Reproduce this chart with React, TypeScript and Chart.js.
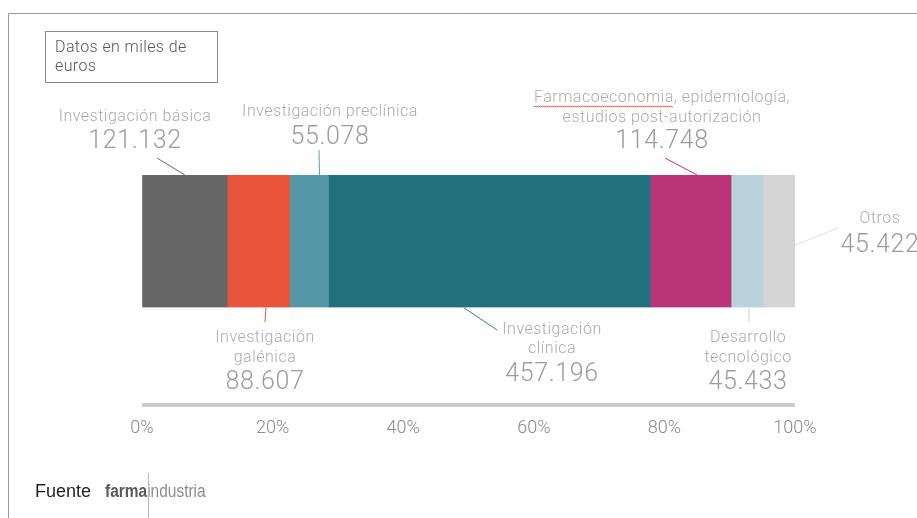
import React, { useEffect, useRef } from "react";
import { Chart, registerables } from "chart.js";

Chart.register(...registerables);

// ---- Data ----
const categories = [
  "Investigación básica",
  "Investigación galénica",
  "Investigación preclínica",
  "Investigación clínica",
  "Farmacoeconomia, epidemiología, estudios post-autorización",
  "Desarrollo tecnológico",
  "Otros",
];
const values = [121132, 88607, 55078, 457196, 114748, 45433, 45422];
const valueLabels = ["121.132", "88.607", "55.078", "457.196", "114.748", "45.433", "45.422"];
const labelLines = [
  ["Investigación básica"],
  ["Investigación", "galénica"],
  ["Investigación preclínica"],
  ["Investigación", "clínica"],
  ["Farmacoeconomia, epidemiología,", "estudios post-autorización"],
  ["Desarrollo", "tecnológico"],
  ["Otros"],
];
const tickValues = [0, 20, 40, 60, 80, 100];
const noteText = ["Datos en miles de", "euros"];
const sourceLabel = "Fuente";

// ---- Styles ----
const colors = ["#666666", "#E9553A", "#5497A8", "#20707E", "#B93577", "#B8D3DC", "#D4D4D4"];
const leaderColors = ["#666666", "#E9553A", "#5A9FB0", "#3C7C89", "#B93577", "#C3D5DC", "#DDDDDD"];

// annotation layout: text center x, line ys, number y, leader (frac along segment, edge, free end)
const annoLayout = [
  { cx: 135, ys: [117], ny: 142, frac: 0.5, edge: "top", end: [157, 158] },
  { cx: 265, ys: [338, 358], ny: 383, frac: 0.62, edge: "bottom", end: [265, 322] },
  { cx: 330, ys: [112], ny: 138, frac: 0.77, edge: "top", end: [319, 150] },
  { cx: 552, ys: [330, 349], ny: 375, frac: 0.42, edge: "bottom", end: [497, 330] },
  { cx: 662, ys: [98, 118], ny: 142, frac: 0.58, edge: "top", end: [665, 158] },
  { cx: 748, ys: [338, 358], ny: 383, frac: 0.56, edge: "bottom", end: [749, 322] },
  { cx: 880, ys: [219], ny: 246, frac: 1.0, edge: "right", end: [838, 228] },
];

const LIGHT = "'Roboto', 'Liberation Sans', sans-serif";

const total = values.reduce((a, b) => a + b, 0);
const percents = values.map((v) => (v / total) * 100);

const decorPlugin = {
  id: "decor",
  beforeDraw(chart: any) {
    const ctx = chart.ctx;
    ctx.save();
    ctx.fillStyle = "#ffffff";
    ctx.fillRect(0, 0, chart.width, chart.height);
    // frame
    ctx.strokeStyle = "#9a9a9a";
    ctx.lineWidth = 1;
    ctx.beginPath();
    ctx.moveTo(8.5, chart.height);
    ctx.lineTo(8.5, 13.5);
    ctx.lineTo(chart.width, 13.5);
    ctx.stroke();
    // note box
    ctx.strokeStyle = "#8a8a8a";
    ctx.strokeRect(45.5, 31.5, 172, 51);
    ctx.fillStyle = "#555555";
    ctx.font = `300 16px ${LIGHT}`;
    ctx.letterSpacing = "0.4px";
    ctx.textAlign = "left";
    ctx.textBaseline = "middle";
    ctx.fillText(noteText[0], 55, 48);
    ctx.fillText(noteText[1], 55, 67);
    ctx.restore();
  },
  afterDraw(chart: any) {
    const ctx = chart.ctx;
    const xs = chart.scales.x;
    ctx.save();
    // axis line
    ctx.strokeStyle = "#cccccc";
    ctx.lineWidth = 4;
    ctx.beginPath();
    ctx.moveTo(xs.getPixelForValue(0), 405);
    ctx.lineTo(xs.getPixelForValue(100), 405);
    ctx.stroke();

    // annotations
    categories.forEach((_, i) => {
      const el = chart.getDatasetMeta(i).data[0];
      if (!el) return;
      const props = el.getProps(["x", "y", "base", "height"], true);
      const left = Math.min(props.x, props.base);
      const right = Math.max(props.x, props.base);
      const top = props.y - props.height / 2;
      const bottom = props.y + props.height / 2;
      const L = annoLayout[i];
      let ax = left + (right - left) * L.frac;
      let ay = L.edge === "top" ? top : L.edge === "bottom" ? bottom : props.y + 4;
      if (L.edge === "right") ax = right;
      ctx.strokeStyle = leaderColors[i];
      ctx.lineWidth = 1;
      ctx.beginPath();
      ctx.moveTo(ax, ay);
      ctx.lineTo(L.end[0], L.end[1]);
      ctx.stroke();

      ctx.textAlign = "center";
      ctx.textBaseline = "middle";
      ctx.fillStyle = "#ababab";
      ctx.font = `300 16px ${LIGHT}`;
      ctx.letterSpacing = "0.5px";
      labelLines[i].forEach((t, k) => ctx.fillText(t, L.cx, L.ys[k]));
      ctx.fillStyle = "#9c9c9c";
      ctx.font = `300 25px ${LIGHT}`;
      ctx.letterSpacing = "0.6px";
      ctx.fillText(valueLabels[i], L.cx, L.ny);

      if (i === 4) {
        // spell-check squiggle under the first word
        ctx.font = `300 16px ${LIGHT}`;
        ctx.letterSpacing = "0.5px";
        const full = ctx.measureText(labelLines[i][0]).width;
        const word = ctx.measureText("Farmacoeconomia").width;
        const x0 = L.cx - full / 2;
        ctx.strokeStyle = "#E05A5A";
        ctx.lineWidth = 1;
        ctx.beginPath();
        for (let x = 0; x <= word; x += 1) {
          const y = L.ys[0] + 8 + (Math.floor(x / 2) % 2 === 0 ? 0 : 1);
          if (x === 0) ctx.moveTo(x0 + x, y);
          else ctx.lineTo(x0 + x, y);
        }
        ctx.stroke();
      }
    });
    ctx.letterSpacing = "0px";

    // footer
    ctx.textAlign = "left";
    ctx.textBaseline = "alphabetic";
    ctx.fillStyle = "#222222";
    ctx.font = "18px 'Liberation Sans', Arial, sans-serif";
    ctx.fillText(sourceLabel, 35, 497);
    ctx.save();
    ctx.translate(105, 497);
    ctx.scale(0.86, 1);
    ctx.fillStyle = "#5a5a5a";
    ctx.font = "bold 18px 'Liberation Sans', Arial, sans-serif";
    ctx.fillText("farma", 0, 0);
    const w = ctx.measureText("farma").width;
    ctx.fillStyle = "#8c8c8c";
    ctx.font = "18px 'Liberation Sans', Arial, sans-serif";
    ctx.fillText("industria", w, 0);
    ctx.restore();
    ctx.strokeStyle = "#bbbbbb";
    ctx.lineWidth = 1;
    ctx.beginPath();
    ctx.moveTo(148.5, 473);
    ctx.lineTo(148.5, 518);
    ctx.stroke();
    ctx.restore();
  },
};

export default function App() {
  const ref = useRef<HTMLCanvasElement | null>(null);
  useEffect(() => {
    if (!ref.current) return;
    const chart = new Chart(ref.current, {
      type: "bar",
      data: {
        labels: [""],
        datasets: categories.map((c, i) => ({
          label: c,
          data: [percents[i]],
          backgroundColor: colors[i],
          borderWidth: 0,
          barPercentage: 1,
          categoryPercentage: 1,
        })),
      },
      options: {
        indexAxis: "y",
        animation: false,
        responsive: false,
        layout: { padding: { left: 142, right: 122, top: 175, bottom: 78 } },
        plugins: { legend: { display: false }, tooltip: { enabled: false } },
        scales: {
          x: {
            stacked: true,
            min: 0,
            max: 100,
            afterBuildTicks: (axis: any) => {
              axis.ticks = tickValues.map((v) => ({ value: v }));
            },
            grid: {
              display: true,
              drawOnChartArea: false,
              drawTicks: true,
              tickLength: 107,
              color: "rgba(0,0,0,0)",
            },
            border: { display: false },
            ticks: {
              padding: 3,
              color: "#8a8a8a",
              font: { family: "'Roboto', 'Liberation Sans', sans-serif", size: 18, weight: "300" as any },
              callback: (v: any) => `${v}%`,
            },
          },
          y: { stacked: true, display: false },
        },
      },
      plugins: [decorPlugin],
    });
    return () => chart.destroy();
  }, []);
  return (
    <div style={{ position: "fixed", left: 0, top: 0, width: 917, height: 518 }}>
      <canvas ref={ref} width={917} height={518} style={{ display: "block" }} />
    </div>
  );
}
